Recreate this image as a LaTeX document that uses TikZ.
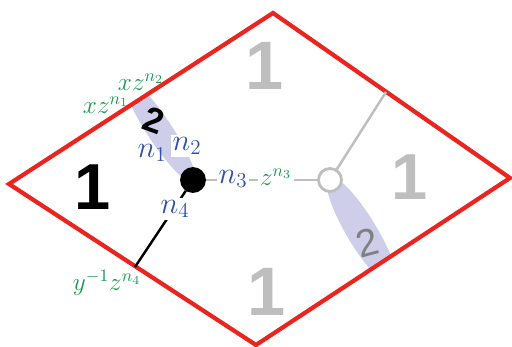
\documentclass[tikz,border=0pt]{standalone}
\usepackage{amsmath}
\usepackage{fontspec}
\usepackage{tikz}
\usetikzlibrary{positioning,calc}
\newfontfamily\digitfont{Liberation Sans}
\definecolor{cellred}{RGB}{234,36,30}
\definecolor{legblue}{RGB}{48,80,168}
\definecolor{wtgreen}{RGB}{28,150,80}
\definecolor{bandlav}{RGB}{206,206,234}
\definecolor{lightgr}{RGB}{190,190,190}
\tikzset{
	x=0.02cm, y=-0.02cm, % one unit is one pixel, y runs downwards
	face/.style = {font=\digitfont\bfseries\fontsize{37}{37}\selectfont, inner sep=0pt}, % the big face numbers
	leg/.style = {text=legblue, font=\fontsize{18}{20}\selectfont, inner sep=1pt}, % leg labels at the vertex
	wt/.style = {text=wtgreen, font=\fontsize{14}{16}\selectfont, inner sep=1pt} % weights where legs cross the boundary
}

\begin{document}
\begin{tikzpicture}
            \tikzset{my node/.style = {circle, draw, line width=1.6pt, minimum size=0.46cm, inner sep=0pt}}
            \tikzset{my edge/.style = {-, line width=1.4pt}}
            \useasboundingbox (0,0) rectangle (512,347);
            \coordinate (l) at (9,184);
            \coordinate (t) at (273,13);
            \coordinate (r) at (510,178);
            \coordinate (b) at (256,345);
            \coordinate (e1) at (386,92);
            \coordinate (e4) at (135,267);
            \begin{scope}
                \clip (l) -- (t) -- (r) -- (b) -- cycle;
                \fill[bandlav, rotate around={-56.5:(160,131)}] (160,131) ellipse [x radius=1.24cm, y radius=0.25cm];
                \fill[bandlav, rotate around={-58.9:(362,232)}] (362,232) ellipse [x radius=1.28cm, y radius=0.30cm];
            \end{scope}
            \draw[cellred, line width=2.4pt] (l) -- (t) -- (r) -- (b) -- cycle;
            \node[my node, fill=black] (bv) at (193,180) {};
            \node[my node, draw=lightgr, fill=white] (wv) at (330,180) {};
            \draw[my edge, lightgr] (bv) -- (wv);
            \draw[my edge, lightgr] (wv) -- (e1);
            \draw[my edge] (bv) -- (e4);
            \node[face] (f1) at (93,187) {1};
            \node[face, text=lightgr, font=\digitfont\bfseries\fontsize{39}{39}\selectfont] (f2) at (265,66) {1};
            \node[face, text=lightgr] (f3) at (410,177) {1};
            \node[face, text=lightgr, font=\digitfont\bfseries\fontsize{39}{39}\selectfont] (f4) at (267,292) {1};
            \node[face, font=\digitfont\bfseries\fontsize{20}{20}\selectfont, rotate=-20] (d1) at (154,120) {2};
            \node[face, font=\digitfont\fontsize{22}{22}\selectfont, text=gray, rotate=15] (d2) at (367,243) {2};
            \node[leg] (n1) at (152,153) {$n_1$};
            \node[leg, fill=white] (n2) at (187,146) {$n_2$};
            \node[leg, fill=white] (n3) at (233,179) {$n_3$};
            \node[leg, fill=white] (n4) at (175,209) {$n_4$};
            \node[wt, fill=white] (w3) at (276,177) {$z^{n_3}$};
            \node[wt] (w2) at (141,82) {$xz^{n_2}$};
            \node[wt] (w1) at (106,105) {$xz^{n_1}$};
            \node[wt] (w4) at (107,283) {$y^{-1}z^{n_4}$};
        \end{tikzpicture}
\end{document}
